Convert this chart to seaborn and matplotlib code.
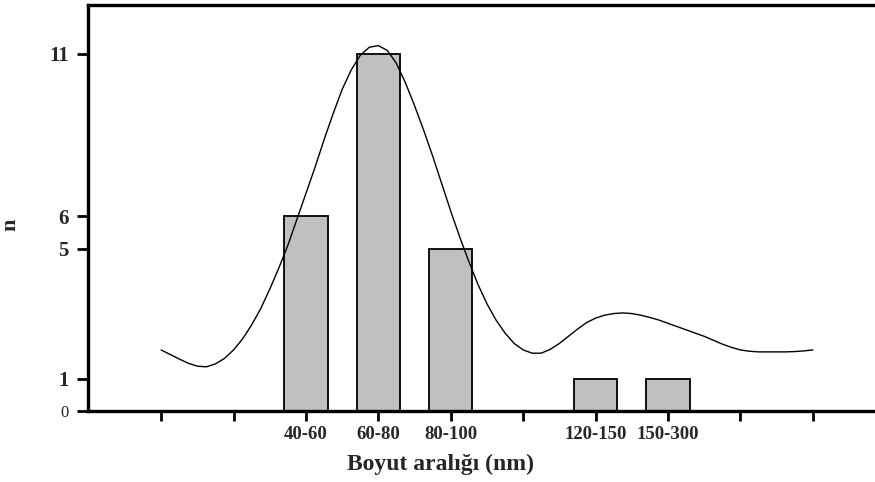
import matplotlib
matplotlib.use("Agg")
import matplotlib.pyplot as plt
import seaborn as sns
import pandas as pd

# ---- data ----
categories = ["40-60", "60-80", "80-100", "120-150", "150-300"]
counts = [6, 11, 5, 1, 1]
# axis slots (blank slots carry tick marks without labels)
slot_order = [" ", "  ", "40-60", "60-80", "80-100", "   ", "120-150", "150-300", "    ", "     "]
y_ticks = [0, 1, 5, 6, 11]
# smooth fitted curve (x in slot units)
curve_x = [0, 0.125, 0.25, 0.375, 0.5, 0.625, 0.75, 0.875, 1.0, 1.125, 1.25, 1.375,
           1.5, 1.625, 1.75, 1.875, 2.0, 2.125, 2.25, 2.375, 2.5, 2.625, 2.75, 2.875,
           3.0, 3.125, 3.25, 3.375, 3.5, 3.625, 3.75, 3.875, 4.0, 4.125, 4.25, 4.375,
           4.5, 4.625, 4.75, 4.875, 5.0, 5.125, 5.25, 5.375, 5.5, 5.625, 5.75, 5.875,
           6.0, 6.125, 6.25, 6.375, 6.5, 6.625, 6.75, 6.875, 7.0, 7.125, 7.25, 7.375,
           7.5, 7.625, 7.75, 7.875, 8.0, 8.125, 8.25, 8.375, 8.5, 8.625, 8.75, 8.875, 9.0]
curve_y = [1.88, 1.74, 1.6, 1.47, 1.38, 1.36, 1.45, 1.62, 1.88, 2.22, 2.65, 3.15,
           3.75, 4.4, 5.1, 5.9, 6.7, 7.5, 8.35, 9.15, 9.9, 10.5, 10.95, 11.2,
           11.25, 11.1, 10.7, 10.1, 9.4, 8.65, 7.85, 7.0, 6.15, 5.35, 4.6, 3.9,
           3.3, 2.8, 2.4, 2.08, 1.88, 1.78, 1.78, 1.9, 2.08, 2.3, 2.52, 2.72,
           2.86, 2.95, 3.0, 3.02, 3.0, 2.95, 2.88, 2.8, 2.7, 2.6, 2.5, 2.4,
           2.3, 2.18, 2.06, 1.96, 1.88, 1.84, 1.82, 1.82, 1.82, 1.82, 1.83, 1.85, 1.88]

sns.set_style("ticks")
plt.rcParams['font.family'] = ['Liberation Serif', 'DejaVu Serif']

fig = plt.figure(figsize=(8.75, 4.82), dpi=100)
ax = fig.add_axes([88/875, 1 - 411/482, 1 - 88/875 + 0.01, (411 - 5)/482])

df = pd.DataFrame({"cat": categories, "n": counts})
sns.barplot(data=df, x="cat", y="n", order=slot_order, color="#c0c0c0",
            saturation=1, edgecolor="black", linewidth=1.3, width=0.6, ax=ax)

cdf = pd.DataFrame({"x": curve_x, "y": curve_y})
sns.lineplot(data=cdf, x="x", y="y", color="black", linewidth=1.0, ax=ax,
             estimator=None, sort=False)

ax.set_xlim(-1.01, 9.98)
ax.set_ylim(0, 12.5)
ax.set_yticks(y_ticks)
ax.set_yticklabels([str(v) for v in y_ticks], fontsize=15, fontweight="bold")
lab0 = ax.get_yticklabels()[0]
lab0.set_fontsize(12)
lab0.set_fontweight("normal")
lab0.set_color("#222233")
ax.set_xticks(range(len(slot_order)))
ax.set_xticklabels(slot_order, fontsize=13.5, fontweight="bold")
ax.tick_params(axis="y", direction="out", length=8, width=2, color="black", pad=6)
ax.tick_params(axis="x", direction="out", length=7, width=2, color="black", pad=4)

for s in ["left", "bottom", "top"]:
    ax.spines[s].set_linewidth(2.4)
    ax.spines[s].set_color("black")
ax.spines["right"].set_visible(False)

ax.set_xlabel("Boyut aralığı (nm)", fontsize=17, fontweight="bold")
ax.xaxis.set_label_coords(0.4436, -0.105)
ax.set_ylabel("n", fontsize=16, fontweight="bold")
ax.yaxis.set_label_coords(-0.0855, 0.458)

fig.savefig("out.png", dpi=100)
